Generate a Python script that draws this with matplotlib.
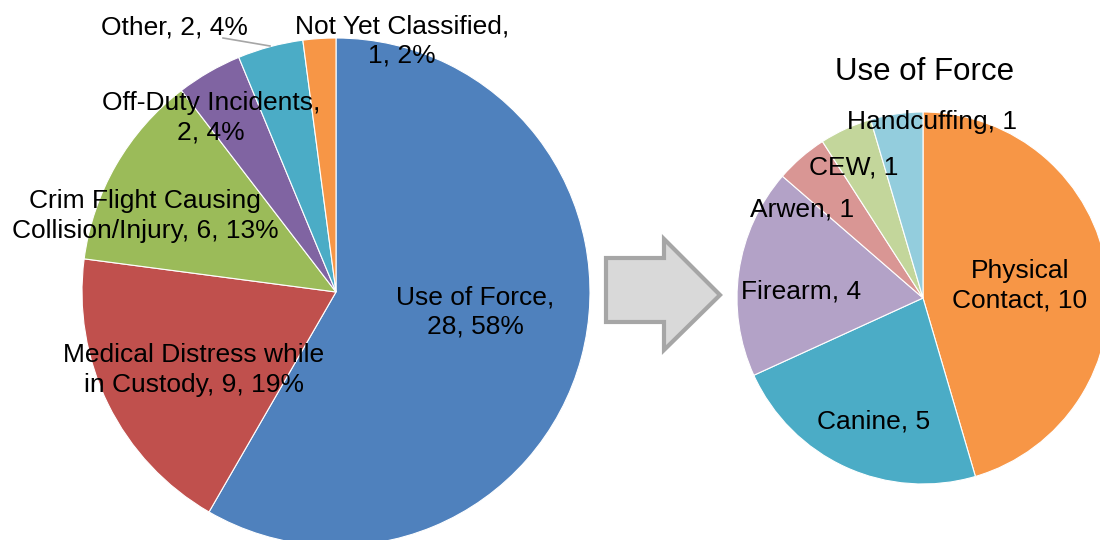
import matplotlib.pyplot as plt
from matplotlib.patches import Polygon

# data
cats = ['Use of Force', 'Medical Distress while\nin Custody', 'Crim Flight Causing\nCollision/Injury',
        'Off-Duty Incidents', 'Other', 'Not Yet Classified']
counts = [28, 9, 6, 2, 2, 1]
cols = ['#4F81BD', '#C0504D', '#9BBB59', '#8064A2', '#4BACC6', '#F79646']

force_cats = ['Physical\nContact', 'Canine', 'Firearm', 'Arwen', 'CEW', 'Handcuffing']
force_counts = [10, 5, 4, 1, 1, 1]
force_cols = ['#F79646', '#4BACC6', '#B3A2C7', '#D99694', '#C3D69B', '#93CDDD']

H = 540
plt.rcParams['font.family'] = ['Liberation Sans', 'DejaVu Sans']

fig = plt.figure(figsize=(11, 5.4), dpi=100)
ax = fig.add_axes([0, 0, 1, 1])

ax.pie(counts, center=(336, H - 292), radius=254, startangle=90, counterclock=False,
       colors=cols, wedgeprops=dict(edgecolor='white', linewidth=0.8))
ax.pie(force_counts, center=(923, H - 298), radius=186, startangle=90, counterclock=False,
       colors=force_cols, wedgeprops=dict(edgecolor='white', linewidth=0.8))

# labels (pixel positions from top-left)
tot = sum(counts)
left_txt = [
    'Use of Force,\n%d, %d%%' % (counts[0], round(100 * counts[0] / tot)),
    'Medical Distress while\nin Custody, %d, %d%%' % (counts[1], round(100 * counts[1] / tot)),
    'Crim Flight Causing\nCollision/Injury, %d, %d%%' % (counts[2], round(100 * counts[2] / tot + 0.01)),
    'Off-Duty Incidents,\n%d, %d%%' % (counts[3], round(100 * counts[3] / tot)),
    'Other, %d, %d%%' % (counts[4], round(100 * counts[4] / tot)),
    'Not Yet Classified,\n%d, %d%%' % (counts[5], round(100 * counts[5] / tot)),
]
left_pos = [(475, 312), (194, 370), (145, 216), (211, 118), (174, 28), (402, 41)]
for t, (x, y) in zip(left_txt, left_pos):
    ax.text(x, H - y, t, ha='center', va='center', fontsize=19, linespacing=1.3)

ax.plot([223, 270], [H - 38, H - 46], color='#A6A6A6', lw=1.2)

right_txt = ['%s, %d' % (c, v) for c, v in zip(force_cats, force_counts)]
right_pos = [(1020, 286), (874, 421), (801, 292), (802, 210), (854, 168), (932, 122)]
for t, (x, y) in zip(right_txt, right_pos):
    ax.text(x, H - y, t, ha='center', va='center', fontsize=19, linespacing=1.3)

ax.text(925, H - 72, 'Use of Force', ha='center', va='center', fontsize=22.5)

# block arrow
arrow = [(606, 258), (664, 258), (664, 239), (720, 295), (664, 350), (664, 322), (606, 322)]
ax.add_patch(Polygon([(x, H - y) for x, y in arrow], closed=True,
                     facecolor='#D9D9D9', edgecolor='#A6A6A6', lw=3, joinstyle='miter'))

ax.set_xlim(0, 1100)
ax.set_ylim(0, H)
ax.set_aspect('equal')
ax.axis('off')
fig.savefig('out.png', dpi=100)
